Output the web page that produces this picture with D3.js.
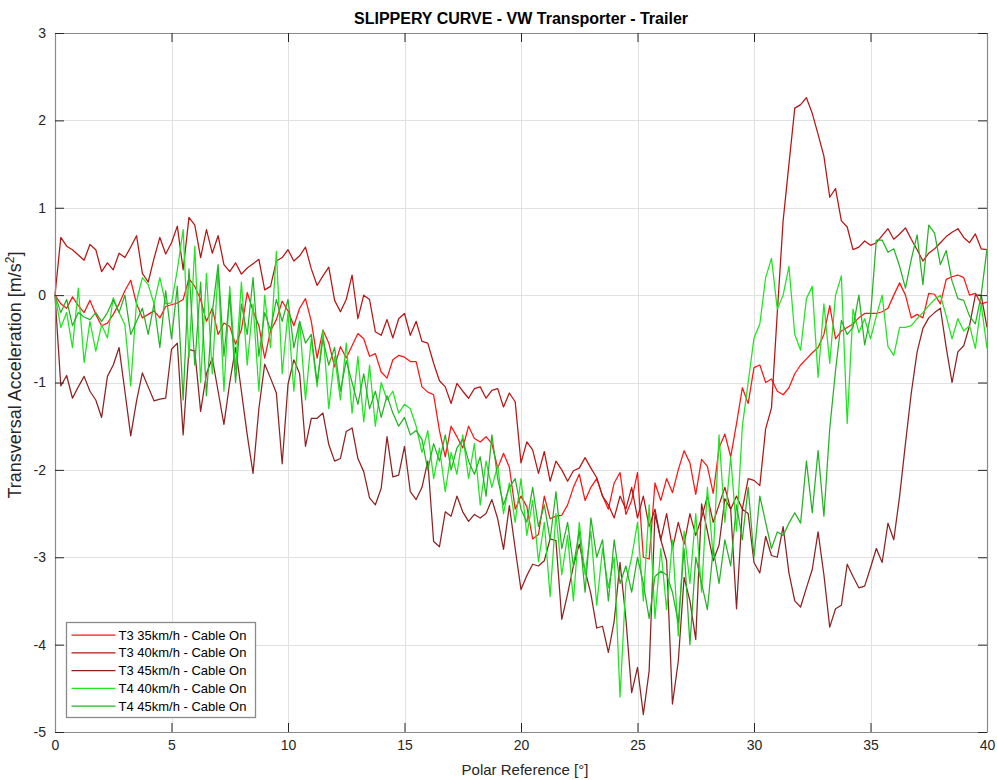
<!DOCTYPE html>
<html>
<head>
<meta charset="utf-8">
<script src="https://cdn.jsdelivr.net/npm/d3@7"></script>
<style>
  html, body { margin: 0; padding: 0; background: #ffffff; }
  svg { display: block; font-family: "Liberation Sans", Arial, Helvetica, sans-serif; }
</style>
</head>
<body>
<svg id="chart" width="997" height="780"></svg>
<script>
// ---------- DATA ----------
const chartTitle = "SLIPPERY CURVE - VW Transporter - Trailer";
const xLabel = "Polar Reference [°]";
const xTicks = [0, 5, 10, 15, 20, 25, 30, 35, 40];
const yTicks = [-5, -4, -3, -2, -1, 0, 1, 2, 3];
const sampleStep = 0.25;                       // polar reference sampling [°]
const polarRef = d3.range(0, 40 + sampleStep / 2, sampleStep);

const seriesNames = ["T3 35km/h - Cable On", "T3 40km/h - Cable On", "T3 45km/h - Cable On",
                     "T4 40km/h - Cable On", "T4 45km/h - Cable On"];

const t3_35 = [
  0, -0.1, -0.15, -0.02, -0.12, -0.2, -0.06, -0.22, -0.35, -0.32, -0.22, -0.1, 0.05, 0.17, -0.1, -0.26, -0.22, -0.18, -0.26, -0.13,
  -0.11, -0.09, -0.05, 0.19, 0.1, -0.05, -0.3, -0.15, -0.45, -0.32, -0.36, -0.56, -0.4, 0.03, -0.18, -0.35, -0.72, -0.41, -0.28, -0.07,
  -0.18, -0.35, -0.15, -0.04, -0.3, -0.72, -0.4, -0.55, -0.82, -0.59, -0.72, -0.58, -0.44, -0.5, -0.7, -0.67, -0.88, -0.95, -0.74, -0.69,
  -0.71, -0.76, -0.76, -1.05, -1.11, -1.14, -1.55, -1.85, -1.5, -1.62, -1.75, -1.5, -1.64, -1.68, -1.62, -1.7, -1.98, -1.81, -1.97, -2.45,
  -2.3, -2.42, -2.79, -2.74, -2.3, -2.56, -2.53, -2.52, -2.4, -2.2, -2.05, -2.35, -2.2, -2.1, -2.3, -2.45, -2.15, -2.03, -2.51, -2.35,
  -2.03, -3.0, -3.02, -2.15, -2.35, -2.1, -2.26, -2.0, -1.78, -1.92, -2.28, -1.88, -1.96, -2.27, -1.75, -1.59, -1.85, -1.47, -1.06, -1.24,
  -0.83, -0.8, -1.0, -0.96, -1.1, -1.14, -1.06, -0.9, -0.8, -0.73, -0.66, -0.6, -0.45, -0.12, -0.5, -0.41, -0.37, -0.33, -0.26, -0.21,
  -0.21, -0.21, -0.19, -0.15, 0.0, 0.14, 0.0, -0.26, -0.22, -0.26, 0.02, 0.01, -0.1, 0.18, 0.21, 0.23, 0.2, 0.0, 0.02, -0.1,
  -0.08
];
const t3_40 = [
  0.0, 0.66, 0.56, 0.52, 0.46, 0.4, 0.58, 0.52, 0.27, 0.37, 0.29, 0.48, 0.43, 0.55, 0.68, 0.25, 0.15, 0.42, 0.66, 0.47,
  0.6, 0.79, 0.29, 0.89, 0.8, 0.43, 0.75, 0.48, 0.68, 0.35, 0.27, 0.37, 0.24, 0.31, 0.36, 0.41, 0.06, 0.1, 0.39, 0.43,
  0.52, 0.39, 0.45, 0.55, 0.3, 0.11, 0.22, 0.32, -0.06, -0.19, -0.05, 0.23, -0.27, 0.0, -0.05, -0.42, -0.46, -0.28, -0.49, -0.27,
  -0.21, -0.46, -0.3, -0.53, -0.55, -0.78, -0.98, -1.05, -1.24, -1.01, -1.1, -1.18, -1.07, -1.05, -1.18, -1.09, -1.07, -1.28, -1.12, -1.22,
  -1.92, -1.68, -1.77, -2.04, -1.79, -2.13, -1.9, -2.0, -2.13, -2.01, -1.98, -1.86, -1.98, -2.09, -2.3, -2.4, -2.55, -2.3, -2.45, -2.2,
  -2.55, -2.3, -2.65, -2.45, -2.8, -2.5, -2.9, -2.6, -2.85, -2.5, -2.75, -2.55, -2.3, -2.6, -2.4, -2.2, -2.45, -2.3, -2.45, -2.1,
  -2.12, -2.18, -1.53, -1.29, -0.2, 0.85, 1.5, 2.14, 2.18, 2.26, 2.08, 1.84, 1.59, 1.12, 1.22, 0.85, 0.78, 0.52, 0.55, 0.62,
  0.57, 0.6, 0.68, 0.76, 0.64, 0.7, 0.77, 0.64, 0.52, 0.39, 0.48, 0.53, 0.6, 0.67, 0.72, 0.76, 0.66, 0.6, 0.7, 0.53,
  0.52
];
const t3_45 = [
  0.0, -1.04, -0.92, -1.18, -1.05, -0.93, -1.1, -1.2, -1.4, -0.93, -0.8, -0.6, -1.1, -1.61, -1.21, -0.89, -1.05, -1.21, -1.19, -1.18,
  -0.62, -0.55, -1.6, -0.62, -0.64, -1.33, -0.9, -0.72, -1.1, -1.48, -1.0, -0.6, -1.1, -1.6, -2.04, -1.3, -0.79, -0.95, -1.12, -1.93,
  -1.02, -0.74, -0.9, -1.73, -1.41, -1.41, -1.35, -1.71, -1.9, -1.87, -1.56, -1.52, -1.87, -2.02, -2.32, -2.4, -2.21, -1.62, -2.08, -2.06,
  -1.73, -2.25, -2.34, -2.2, -1.9, -2.82, -2.88, -2.48, -2.53, -2.3, -2.48, -2.59, -2.51, -2.55, -2.5, -2.34, -2.56, -2.91, -2.41, -2.9,
  -3.37, -3.21, -3.08, -3.1, -3.04, -2.79, -2.81, -3.71, -3.42, -3.1, -2.85, -3.15, -3.42, -3.81, -3.79, -4.09, -3.73, -3.06, -3.7, -4.55,
  -4.26, -4.8, -4.3, -2.5, -2.8, -3.04, -4.68, -4.19, -3.23, -3.5, -3.94, -2.39, -2.7, -3.04, -2.86, -2.33, -2.45, -3.59, -2.45, -2.5,
  -3.06, -3.18, -2.76, -2.98, -3.0, -2.65, -3.18, -3.5, -3.57, -3.35, -3.14, -2.71, -3.2, -3.8, -3.59, -3.55, -3.08, -3.22, -3.35, -3.33,
  -3.12, -2.9, -3.06, -2.61, -2.8, -2.3, -1.7, -1.12, -0.65, -0.38, -0.26, -0.2, -0.15, -0.6, -1.0, -0.65, -0.58, -0.35, 0.0, 0.0,
  -0.37
];
const t4_40 = [
  0.0, -0.37, -0.2, -0.6, 0.08, -0.77, -0.3, -0.64, -0.34, -0.49, -0.03, -0.2, -0.34, -1.04, -0.07, 0.2, 0.12, -0.1, 0.2, -0.1,
  -0.09, 0.29, 0.75, -0.72, 0.56, -1.0, 0.25, -0.9, 0.3, -1.1, 0.1, -0.85, 0.15, -0.8, -0.1, -1.1, 0.0, -0.6, 0.5, -0.9,
  -0.2, -1.1, -0.3, -1.2, -0.5, -1.05, -0.4, -1.3, -0.7, -1.2, -0.55, -1.35, -0.7, -1.45, -0.8, -1.5, -1.0, -1.2, -1.1, -1.35,
  -1.25, -1.3, -1.5, -1.8, -1.55, -2.1, -1.75, -2.25, -1.8, -2.05, -1.6, -2.1, -1.7, -2.4, -1.9, -2.2, -1.95, -2.5, -2.15, -2.6,
  -2.1, -2.75, -2.35, -3.05, -2.6, -3.45, -2.5, -3.2, -2.75, -3.5, -2.6, -3.2, -2.7, -3.55, -2.9, -3.35, -3.0, -4.6, -3.3, -3.0,
  -2.6, -3.5, -2.4, -3.7, -2.9, -3.6, -2.8, -3.9, -2.7, -3.3, -2.5, -3.4, -2.2, -3.0, -1.6, -2.6, -1.85, -2.7, -1.5, -1.0,
  -0.49, -0.33, 0.2, 0.42, -0.16, 0.0, 0.33, -0.45, -0.63, -0.04, 0.1, -0.94, -0.1, -0.78, 0.0, 0.22, -1.47, -0.16, -0.43, -0.27,
  -0.5, -0.24, 0.0, -0.59, -0.69, -0.37, -0.37, -0.35, -0.27, -0.2, -0.12, -0.05, 0.0, -0.24, -0.5, -0.27, -0.41, -0.35, -0.61, -0.1,
  -0.61
];
const t4_45 = [
  0.0, -0.2, -0.05, -0.35, -0.2, -0.25, -0.28, -0.2, -0.3, -0.2, -0.05, -0.2, 0.0, -0.45, -0.3, -0.15, -0.45, -0.1, -0.6, 0.05,
  -0.5, 0.1, -1.2, 0.3, -0.8, 0.15, -1.15, -0.2, 0.35, -0.7, 0.0, -1.0, -0.1, -0.45, 0.2, -0.7, -0.2, -0.4, -0.05, -0.3,
  -0.05, -0.6, -0.3, -0.55, -0.45, -1.0, -0.5, -0.8, -0.6, -1.1, -0.75, -1.0, -1.25, -0.9, -1.3, -1.1, -1.4, -1.15, -1.35, -1.5,
  -1.4, -1.6, -1.55, -1.65, -2.0, -1.7, -1.9, -1.6, -2.0, -1.75, -1.65, -1.9, -2.05, -1.85, -2.3, -1.6, -2.1, -2.4, -2.2, -2.1,
  -2.45, -2.6, -2.2, -2.65, -2.4, -2.8, -2.25, -2.9, -2.6, -3.1, -2.7, -3.4, -2.55, -3.0, -2.8, -3.5, -2.8, -3.3, -3.1, -3.4,
  -3.0, -3.3, -3.7, -3.22, -3.16, -3.2, -3.4, -3.75, -2.9, -4.0, -3.0, -3.3, -3.6, -2.9, -3.3, -2.8, -3.1, -2.4, -2.8, -2.2,
  -3.0, -2.3, -2.6, -2.9, -2.71, -2.75, -2.61, -2.49, -2.61, -1.9, -2.49, -1.78, -2.53, -1.53, -0.86, -0.29, -0.45, -0.37, 0.0, -0.57,
  -0.24, 0.63, 0.63, 0.49, 0.53, 0.33, 0.08, 0.41, 0.69, 0.12, 0.8, 0.71, 0.35, 0.51, 0.16, -0.04, -0.06, -0.24, -0.33, 0.0,
  0.53
];
const seriesValues = [t3_35, t3_40, t3_45, t4_40, t4_45];
const seriesColors = ["#ff1414", "#b81414", "#8e2222", "#1ee61e", "#22b422"];

// ---------- LAYOUT ----------
const svg = d3.select("#chart");
const W = 997, H = 780;
const m = { left: 55, right: 10, top: 33, bottom: 48 };
const x = d3.scaleLinear().domain([0, 40]).range([m.left, W - m.right]);
const y = d3.scaleLinear().domain([-5, 3]).range([H - m.bottom, m.top]);
const textColor = "#262626";

svg.append("rect").attr("width", W).attr("height", H).attr("fill", "#ffffff");

// grid
const grid = svg.append("g").attr("stroke", "#e1e1e1").attr("stroke-width", 1);
grid.selectAll("line.gx").data(xTicks.slice(1, -1)).join("line")
  .attr("x1", d => Math.round(x(d)) + 0.5).attr("x2", d => Math.round(x(d)) + 0.5)
  .attr("y1", y(3)).attr("y2", y(-5));
grid.selectAll("line.gy").data(yTicks.slice(1, -1)).join("line")
  .attr("y1", d => Math.round(y(d)) + 0.5).attr("y2", d => Math.round(y(d)) + 0.5)
  .attr("x1", x(0)).attr("x2", x(40));

// lines
const plot = svg.append("g");
const line = d3.line().x((d, i) => x(polarRef[i])).y(d => y(d));
seriesValues.forEach((vals, k) => {
  plot.append("path").datum(vals)
    .attr("fill", "none")
    .attr("stroke", seriesColors[k])
    .attr("stroke-width", 1.25)
    .attr("stroke-linejoin", "round")
    .attr("d", line);
});

// axes
function styleAxis(g) {
  g.select(".domain").attr("stroke", "#8a8a8a").attr("stroke-width", 1.2);
  g.selectAll(".tick line").attr("stroke", "#262626").attr("stroke-width", 1);
  g.selectAll(".tick text").attr("fill", textColor).style("font-size", "14px")
    .style("font-family", '"Liberation Sans", Arial, Helvetica, sans-serif');
}
svg.append("g").attr("transform", `translate(0,${y(-5)})`)
  .call(d3.axisBottom(x).tickValues(xTicks).tickSizeInner(-9).tickSizeOuter(0).tickPadding(8).tickFormat(d3.format("d")))
  .call(styleAxis);
svg.append("g").attr("transform", `translate(0,${y(3)})`)
  .call(d3.axisTop(x).tickValues(xTicks).tickSizeInner(-9).tickSizeOuter(0).tickFormat(""))
  .call(styleAxis);
svg.append("g").attr("transform", `translate(${x(0)},0)`)
  .call(d3.axisLeft(y).tickValues(yTicks).tickSizeInner(-9).tickSizeOuter(0).tickPadding(9).tickFormat(d3.format("d")))
  .call(styleAxis);
svg.append("g").attr("transform", `translate(${x(40)},0)`)
  .call(d3.axisRight(y).tickValues(yTicks).tickSizeInner(-9).tickSizeOuter(0).tickFormat(""))
  .call(styleAxis);
svg.selectAll(".tick text").text(function() { return this.textContent.replace("−", "-"); });

// title
svg.append("text").attr("x", (x(0) + x(40)) / 2).attr("y", 24)
  .attr("text-anchor", "middle").attr("fill", "#000")
  .style("font-size", "16px").style("font-weight", "bold")
  .text(chartTitle);

// x label
svg.append("text").attr("x", (x(0) + x(40)) / 2 + 4).attr("y", 775)
  .attr("text-anchor", "middle").attr("fill", textColor)
  .style("font-size", "15px").text(xLabel);

// y label
const yl = svg.append("text")
  .attr("transform", `translate(21,375) rotate(-90)`)
  .attr("text-anchor", "middle").attr("fill", textColor)
  .style("font-size", "18px");
yl.append("tspan").text("Transversal Acceleration [m/s");
yl.append("tspan").attr("dy", -7).style("font-size", "12px").text("2");
yl.append("tspan").attr("dy", 7).text("]");

// legend
const lg = svg.append("g").attr("transform", "translate(66.5,622.5)");
lg.append("rect").attr("width", 189).attr("height", 95)
  .attr("fill", "#ffffff").attr("stroke", "#8a8a8a").attr("stroke-width", 1.3);
seriesNames.forEach((name, k) => {
  const cy = 12.5 + k * 17.8;
  lg.append("line").attr("x1", 5).attr("x2", 49).attr("y1", cy).attr("y2", cy)
    .attr("stroke", seriesColors[k]).attr("stroke-width", 1.25);
  lg.append("text").attr("x", 52).attr("y", cy).attr("dy", "0.35em")
    .attr("fill", "#000").style("font-size", "13px").text(name);
});
</script>
</body>
</html>
